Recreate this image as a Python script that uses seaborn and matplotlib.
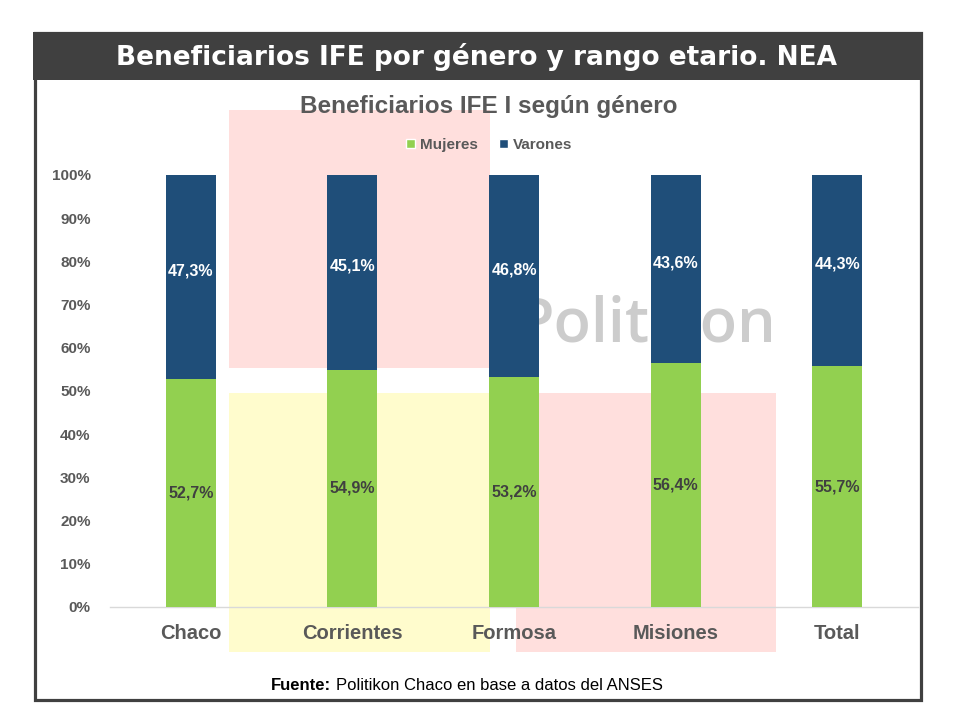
import matplotlib
matplotlib.use("Agg")
import matplotlib.pyplot as plt
from matplotlib.patches import Rectangle, Patch
import seaborn as sns
import pandas as pd

# data
provincias = ["Chaco", "Corrientes", "Formosa", "Misiones", "Total"]
mujeres = [52.7, 54.9, 53.2, 56.4, 55.7]
varones = [47.3, 45.1, 46.8, 43.6, 44.3]
yticks = list(range(0, 101, 10))

VERDE = "#92d050"
AZUL = "#1f4e79"
GRIS = "#595959"
OSCURO = "#404040"

sns.set_theme(style="white")
plt.rcParams["font.family"] = ["Liberation Sans", "DejaVu Sans"]

df = pd.DataFrame({"provincia": provincias, "mujeres": mujeres, "varones": varones})
df["total"] = df["mujeres"] + df["varones"]

W, H = 960, 720
fig = plt.figure(figsize=(9.6, 7.2), dpi=100)

def fx(px):
    return px / W

def fy(py):
    return 1 - py / H

# background watermark blocks
for (x0, y0, x1, y1, c) in [(229, 110, 490, 368, "#ffdfdd"),
                            (229, 393, 490, 652, "#fffccd"),
                            (516, 393, 776, 652, "#ffdfdd")]:
    fig.patches.append(Rectangle((fx(x0), fy(y1)), fx(x1 - x0), (y1 - y0) / H,
                                 transform=fig.transFigure, facecolor=c,
                                 edgecolor="none", zorder=0))
fig.text(fx(646), fy(342), "Politikon", fontsize=44, color="#cccccc",
         family=["Open Sans", "DejaVu Sans"], fontweight="semibold",
         ha="center", va="baseline", zorder=0.5)

# frame and header
fig.patches.append(Rectangle((fx(34.5), fy(699.5)), fx(886), 667 / H,
                             transform=fig.transFigure, facecolor="none",
                             edgecolor=OSCURO, linewidth=2.3, zorder=5))
fig.patches.append(Rectangle((fx(33), fy(80)), fx(889), 48 / H,
                             transform=fig.transFigure, facecolor=OSCURO,
                             edgecolor="none", zorder=5))
fig.text(fx(477), fy(57), "Beneficiarios IFE por género y rango etario. NEA",
         color="white", fontsize=19, fontweight="heavy",
         family=["DejaVu Sans"], ha="center", va="center", zorder=6)

ax = fig.add_axes([fx(110), fy(607), fx(808), 432 / H], zorder=2)
ax.patch.set_alpha(0)

sns.barplot(data=df, x="provincia", y="total", color=AZUL, saturation=1,
            width=0.31, linewidth=0, ax=ax, zorder=3)
sns.barplot(data=df, x="provincia", y="mujeres", color=VERDE, saturation=1,
            width=0.31, linewidth=0, ax=ax, zorder=3)

for i, row in df.iterrows():
    ax.text(i, row["mujeres"] / 2, f"{row['mujeres']:.1f}%".replace(".", ","),
            ha="center", va="center", color=OSCURO, fontsize=11.5,
            fontweight="bold", zorder=4)
    ax.text(i, row["mujeres"] + row["varones"] / 2 + 1.5,
            f"{row['varones']:.1f}%".replace(".", ","),
            ha="center", va="center", color="white", fontsize=11.5,
            fontweight="bold", zorder=4)

ax.set_ylim(0, 100)
ax.set_xlim(-0.5, len(provincias) - 0.5)
ax.set_yticks(yticks)
ax.set_yticklabels([f"{v}%" for v in yticks])
ax.set_xlabel("")
ax.set_ylabel("")
ax.tick_params(axis="y", length=0, pad=14, labelsize=11, labelcolor=GRIS)
ax.tick_params(axis="x", length=0, pad=12, labelsize=14.5, labelcolor=GRIS)
for lab in ax.get_xticklabels() + ax.get_yticklabels():
    lab.set_fontweight("bold")
for s in ["top", "right", "left"]:
    ax.spines[s].set_visible(False)
ax.spines["bottom"].set_color("#d9d9d9")
ax.spines["bottom"].set_linewidth(1)

# chart title and legend
fig.text(fx(489), fy(107), "Beneficiarios IFE I según género", color=GRIS,
         fontsize=17.5, fontweight="bold", ha="center", va="center")
handles = [Patch(facecolor=VERDE, label="Mujeres"), Patch(facecolor=AZUL, label="Varones")]
leg = fig.legend(handles=handles, loc="center", bbox_to_anchor=(fx(489), fy(145)),
                 ncol=2, frameon=False, handlelength=0.6, handleheight=0.6,
                 handletextpad=0.3, columnspacing=1.4, prop={"weight": "bold", "size": 11})
for t in leg.get_texts():
    t.set_color(GRIS)

# source
fig.text(fx(331), fy(685), "Fuente:", fontsize=12, fontweight="bold",
         color="black", ha="right", va="center")
fig.text(fx(336), fy(685), "Politikon Chaco en base a datos del ANSES",
         fontsize=12, color="black", ha="left", va="center")

fig.savefig("out.png", dpi=100)
